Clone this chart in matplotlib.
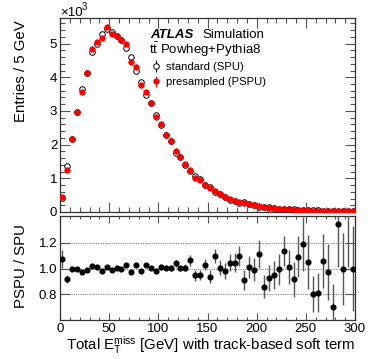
import numpy as np
import matplotlib
matplotlib.use("Agg")
import matplotlib.pyplot as plt
from matplotlib.ticker import MultipleLocator, FixedLocator

plt.rcParams['font.family'] = ['Liberation Sans', 'DejaVu Sans']
plt.rcParams['mathtext.fontset'] = 'custom'
plt.rcParams['mathtext.rm'] = 'Liberation Sans'
plt.rcParams['mathtext.it'] = 'Liberation Sans:italic'
plt.rcParams['mathtext.bf'] = 'Liberation Sans:bold'

# ---------------- data ----------------
bin_edges = np.arange(0, 305, 5)
bin_centers = 0.5 * (bin_edges[:-1] + bin_edges[1:])

# Entries / 5 GeV  (x10^3)
spu = [0.42, 1.36, 2.18, 2.98, 3.65, 4.14, 4.76, 4.98, 5.29, 5.42,
       5.35, 5.22, 5.10, 4.88, 4.59, 4.19, 3.86, 3.46, 3.24, 2.88,
       2.59, 2.28, 2.11, 1.76, 1.63, 1.41, 1.21, 1.07, 0.98, 0.79,
       0.75, 0.58, 0.52, 0.46, 0.37, 0.33, 0.28, 0.29, 0.24, 0.21,
       0.16, 0.16, 0.14, 0.12, 0.10, 0.08, 0.08, 0.075, 0.06, 0.05,
       0.05, 0.05, 0.045, 0.035, 0.032, 0.035, 0.022, 0.025, 0.015, 0.02]
pspu = [0.445, 1.24, 2.18, 2.97, 3.55, 4.13, 4.84, 5.05, 5.18, 5.50,
        5.28, 5.24, 5.12, 4.99, 4.46, 4.30, 3.76, 3.55, 3.25, 2.82,
        2.61, 2.29, 2.12, 1.82, 1.64, 1.42, 1.26, 1.01, 0.96, 0.81,
        0.71, 0.63, 0.52, 0.45, 0.39, 0.34, 0.31, 0.27, 0.24, 0.21,
        0.18, 0.14, 0.13, 0.11, 0.10, 0.09, 0.08, 0.07, 0.065, 0.06,
        0.05, 0.04, 0.04, 0.035, 0.03, 0.025, 0.03, 0.025, 0.025, 0.02]
hist_err = [0.02, 0.03, 0.04, 0.04, 0.05, 0.05, 0.05, 0.05, 0.05, 0.05,
            0.05, 0.05, 0.05, 0.05, 0.05, 0.05, 0.04, 0.04, 0.04, 0.04,
            0.04, 0.04, 0.03, 0.03, 0.03, 0.03, 0.03, 0.03, 0.03, 0.03,
            0.02, 0.02, 0.02, 0.02, 0.02, 0.02, 0.02, 0.02, 0.02, 0.02,
            0.015, 0.015, 0.015, 0.015, 0.01, 0.01, 0.01, 0.01, 0.01, 0.01,
            0.01, 0.01, 0.01, 0.01, 0.01, 0.01, 0.01, 0.01, 0.01, 0.01]

# PSPU / SPU ratio
ratio = [1.072, 0.918, 1.000, 0.995, 0.974, 0.992, 1.018, 1.015, 0.982, 1.013,
         0.990, 1.008, 0.997, 1.026, 0.972, 1.026, 0.979, 1.026, 1.003, 0.985,
         1.013, 1.008, 1.005, 1.041, 1.003, 1.008, 1.064, 0.949, 0.951, 1.031,
         0.938, 1.100, 1.008, 0.982, 1.046, 1.046, 1.100, 0.908, 1.010, 0.990,
         1.113, 0.859, 0.928, 0.949, 0.995, 1.138, 1.013, 0.918, 1.093, 1.190,
         1.052, 0.806, 0.814, 1.062, 0.974, 0.700, 1.346, 1.000, 1.600, 1.000]
ratio_err = [0.070, 0.030, 0.015, 0.015, 0.015, 0.015, 0.015, 0.015, 0.015, 0.015,
             0.015, 0.015, 0.015, 0.015, 0.015, 0.015, 0.015, 0.015, 0.015, 0.018,
             0.020, 0.020, 0.022, 0.030, 0.025, 0.030, 0.040, 0.044, 0.042, 0.045,
             0.050, 0.055, 0.058, 0.064, 0.067, 0.074, 0.080, 0.078, 0.086, 0.090,
             0.110, 0.090, 0.100, 0.110, 0.120, 0.115, 0.135, 0.135, 0.160, 0.210,
             0.210, 0.140, 0.155, 0.210, 0.220, 0.180, 0.330, 0.280, 0.590, 0.330]

xticks = [0, 50, 100, 150, 200, 250, 300]
ratio_ticks = [0.8, 1.0, 1.2]

# ---------------- figure ----------------
W, H = 374, 359
fig = plt.figure(figsize=(W / 100, H / 100), dpi=100)

def fx(px):
    return px / W

def fy(py):
    return 1 - py / H

ax1 = fig.add_axes([fx(60), fy(212), fx(355) - fx(60), fy(18) - fy(212)])
ax2 = fig.add_axes([fx(60), fy(320), fx(355) - fx(60), fy(216) - fy(320)])

red = '#ff0000'
h_spu = ax1.errorbar(bin_centers, spu, yerr=hist_err, fmt='o', ms=4.0,
                     mfc='white', mec='black', mew=0.7, ecolor='black',
                     elinewidth=0.8, capsize=0, label='standard (SPU)', zorder=3)
h_pspu = ax1.errorbar(bin_centers, pspu, yerr=hist_err, fmt='o', ms=4.0,
                      mfc=red, mec=red, mew=0.5, ecolor=red,
                      elinewidth=0.8, capsize=0, label='presampled (PSPU)', zorder=4)

ax1.set_xlim(0, 300)
ax1.set_ylim(0, 5.76)
ax1.yaxis.set_major_locator(MultipleLocator(1))
ax1.yaxis.set_minor_locator(MultipleLocator(0.2))
ax1.xaxis.set_major_locator(FixedLocator(xticks))
ax1.xaxis.set_minor_locator(MultipleLocator(10))
ax1.tick_params(axis='both', which='both', direction='in', top=True, right=True,
                labelsize=9.5, width=0.8, color='#555555')
ax1.tick_params(axis='both', which='major', length=7)
ax1.tick_params(axis='both', which='minor', length=3.5)
ax1.tick_params(axis='x', labelbottom=False)
ax1.tick_params(axis='y', pad=2)

# ratio panel
for yv in ratio_ticks:
    ax2.axhline(yv, color='#888888', lw=0.8, ls=(0, (1, 1)), zorder=1)
ax2.errorbar(bin_centers, ratio, yerr=ratio_err, fmt='o', ms=3.4,
             mfc='black', mec='black', ecolor='#555555', elinewidth=1.0,
             capsize=0, zorder=3)
ax2.set_xlim(0, 300)
ax2.set_ylim(0.6, 1.41)
ax2.yaxis.set_major_locator(FixedLocator(ratio_ticks))
ax2.set_yticklabels(['0.8', '1.0', '1.2'])
ax2.xaxis.set_major_locator(FixedLocator(xticks))
ax2.xaxis.set_minor_locator(MultipleLocator(10))
ax2.tick_params(axis='both', which='both', direction='in', top=True, right=True,
                labelsize=9.5, width=0.8, color='#555555')
ax2.tick_params(axis='y', which='major', length=7, pad=2)
ax2.tick_params(axis='x', which='major', length=5, pad=2)
ax2.tick_params(axis='x', which='minor', length=2.5)

for ax in (ax1, ax2):
    for s in ax.spines.values():
        s.set_linewidth(0.9)
        s.set_color('#333333')

# axis titles
fig.text(fx(21), fy(20), 'Entries / 5 GeV', rotation=90, ha='center', va='top',
         fontsize=10.8)
fig.text(fx(21), fy(266), 'PSPU / SPU', rotation=90, ha='center', va='center',
         fontsize=10.8)
fig.text(fx(355), fy(350),
         r'Total E$_{\mathregular{T}}^{\mathregular{miss}}$ [GeV] with track-based soft term',
         ha='right', va='baseline', fontsize=10.8)

# x10^3
fig.text(fx(60), fy(16.5), '\u00d710', ha='left', va='baseline', fontsize=9.5)
fig.text(fx(82), fy(10), '3', ha='left', va='baseline', fontsize=7)

# ATLAS label
fig.text(fx(150), fy(38), 'ATLAS', ha='left', va='baseline', fontsize=9.5,
         fontweight='bold', fontstyle='italic')
fig.text(fx(202), fy(38), 'Simulation', ha='left', va='baseline', fontsize=9.5)
fig.text(fx(149), fy(54), r't$\bar{\mathregular{t}}$ Powheg+Pythia8',
         ha='left', va='baseline', fontsize=9.5)

leg = ax1.legend(handles=[h_spu, h_pspu], loc='upper left',
                 bbox_to_anchor=(fx(152), fy(62)), bbox_transform=fig.transFigure,
                 frameon=False, fontsize=8.1, handlelength=0.7, handletextpad=0.5,
                 labelspacing=0.45, borderpad=0, borderaxespad=0)

fig.savefig('out.png', dpi=100)
